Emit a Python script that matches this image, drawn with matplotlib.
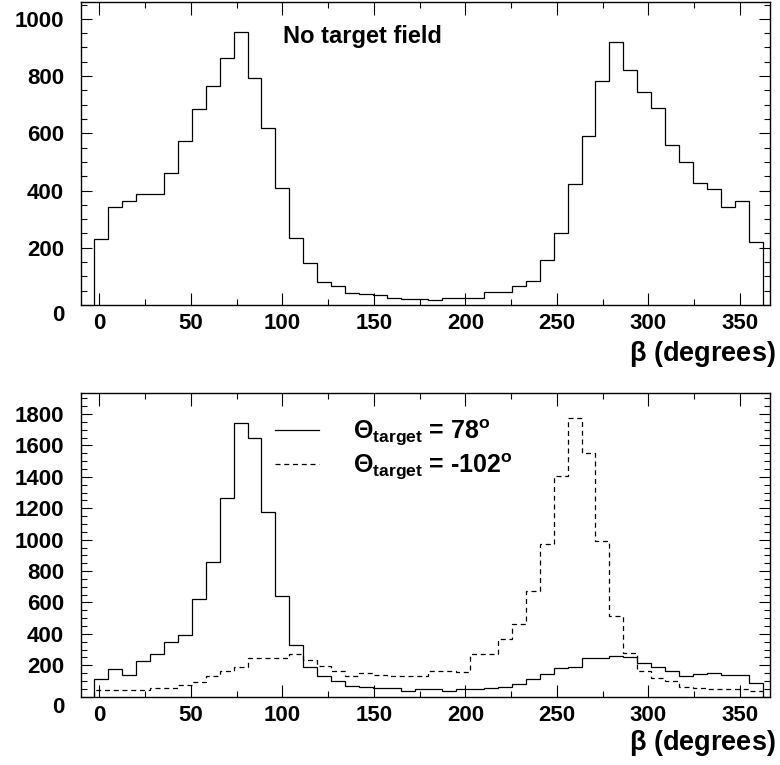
import numpy as np
import matplotlib
matplotlib.use('Agg')
import matplotlib.pyplot as plt
from matplotlib.ticker import MultipleLocator

# beta histograms, 48 bins
beta_lo = -2.7
beta_hi = 362.4
n_bins = 48

# counts with no target field
no_field = [231, 342, 363, 387, 387, 461, 573, 686, 765, 863,
            955, 792, 619, 409, 233, 148, 80, 66, 43, 38,
            35, 25, 21, 21, 17, 25, 25, 25, 44, 44,
            67, 83, 157, 250, 422, 591, 784, 920, 821, 743,
            688, 559, 499, 425, 404, 344, 365, 221]

# counts with target field, Theta_target = 78 deg
theta_78 = [110, 179, 139, 229, 270, 349, 394, 620, 855, 1263,
            1746, 1650, 1178, 638, 330, 192, 132, 101, 68, 61,
            53, 53, 36, 46, 46, 39, 48, 48, 53, 63,
            78, 110, 143, 180, 191, 248, 248, 260, 254, 216,
            186, 163, 134, 143, 149, 136, 136, 85]

# counts with target field, Theta_target = -102 deg
theta_m102 = [40, 40, 43, 45, 57, 53, 72, 95, 132, 163,
              186, 244, 244, 248, 269, 234, 195, 165, 132, 149,
              138, 132, 132, 132, 165, 165, 159, 269, 275, 367,
              464, 674, 971, 1403, 1774, 1551, 990, 513, 280, 165,
              117, 100, 63, 53, 50, 47, 49, 36]

labels = [r'$\mathrm{\Theta}_{\mathbf{target}}$ = 78$^{\mathbf{o}}$',
          r'$\mathrm{\Theta}_{\mathbf{target}}$ = -102$^{\mathbf{o}}$']

plt.rcParams['font.family'] = ['Liberation Sans', 'DejaVu Sans']
plt.rcParams['font.weight'] = 'bold'
plt.rcParams['mathtext.fontset'] = 'custom'
plt.rcParams['mathtext.rm'] = 'Liberation Sans'
plt.rcParams['mathtext.bf'] = 'Liberation Sans:bold'
plt.rcParams['mathtext.it'] = 'Liberation Sans:italic'


def style_axes(ax, ymax, ymajor, yminor, label_y):
    """ROOT-like frame: inward ticks on all four sides"""
    ax.set_xlim(-10.2, 366.5)
    ax.set_ylim(0, ymax)
    ax.xaxis.set_major_locator(MultipleLocator(50))
    ax.xaxis.set_minor_locator(MultipleLocator(25))
    ax.yaxis.set_major_locator(MultipleLocator(ymajor))
    ax.yaxis.set_minor_locator(MultipleLocator(yminor))
    ax.tick_params(which='both', direction='in', top=True, right=True,
                   width=0.8, labelsize=16)
    ax.tick_params(axis='x', which='major', length=9, pad=6)
    ax.tick_params(axis='x', which='minor', length=4.5)
    ax.tick_params(axis='y', which='major', length=8, pad=12)
    ax.tick_params(axis='y', which='minor', length=4)
    for s in ax.spines.values():
        s.set_linewidth(1.0)
    ax.set_xlabel(r'$\mathrm{\beta}$ (degrees)', fontsize=19.5,
                  fontweight='bold', va='center', ha='right')
    ax.xaxis.set_label_coords(1.008, label_y)


fig = plt.figure(figsize=(7.8, 7.65), dpi=100)
edges = np.linspace(beta_lo, beta_hi, n_bins + 1)

# top: no target field
ax1 = fig.add_axes([0.1035, 0.6013, 0.8837, 0.3965])
ax1.stairs(no_field, edges, color='k', lw=0.9)
style_axes(ax1, 1060, 200, 50, -0.160)
ax1.text(0.293, 0.884, 'No target field', transform=ax1.transAxes,
         fontsize=17, fontweight='bold', ha='left', va='center')

# bottom: both field orientations
ax2 = fig.add_axes([0.1035, 0.0893, 0.8837, 0.397])
ax2.stairs(theta_78, edges, color='k', lw=0.9, label=labels[0])
ax2.stairs(theta_m102, edges, color='k', lw=0.9, linestyle=(0, (4, 3)),
           label=labels[1])
style_axes(ax2, 1934, 200, 50, -0.152)
leg = ax2.legend(loc='center left', bbox_to_anchor=(0.282, 0.814),
                 frameon=False, fontsize=18, borderpad=0, borderaxespad=0,
                 handlelength=1.75, handletextpad=1.35, labelspacing=0.15)
for h in leg.legend_handles:
    h.set_linewidth(0.9)

# the "0" labels hang below the axis line, as ROOT draws them
fig.canvas.draw()
for ax in (ax1, ax2):
    for tick in ax.yaxis.get_major_ticks():
        if tick.get_loc() == 0:
            tick.label1.set_va('top')

fig.savefig('out.png', dpi=100)
